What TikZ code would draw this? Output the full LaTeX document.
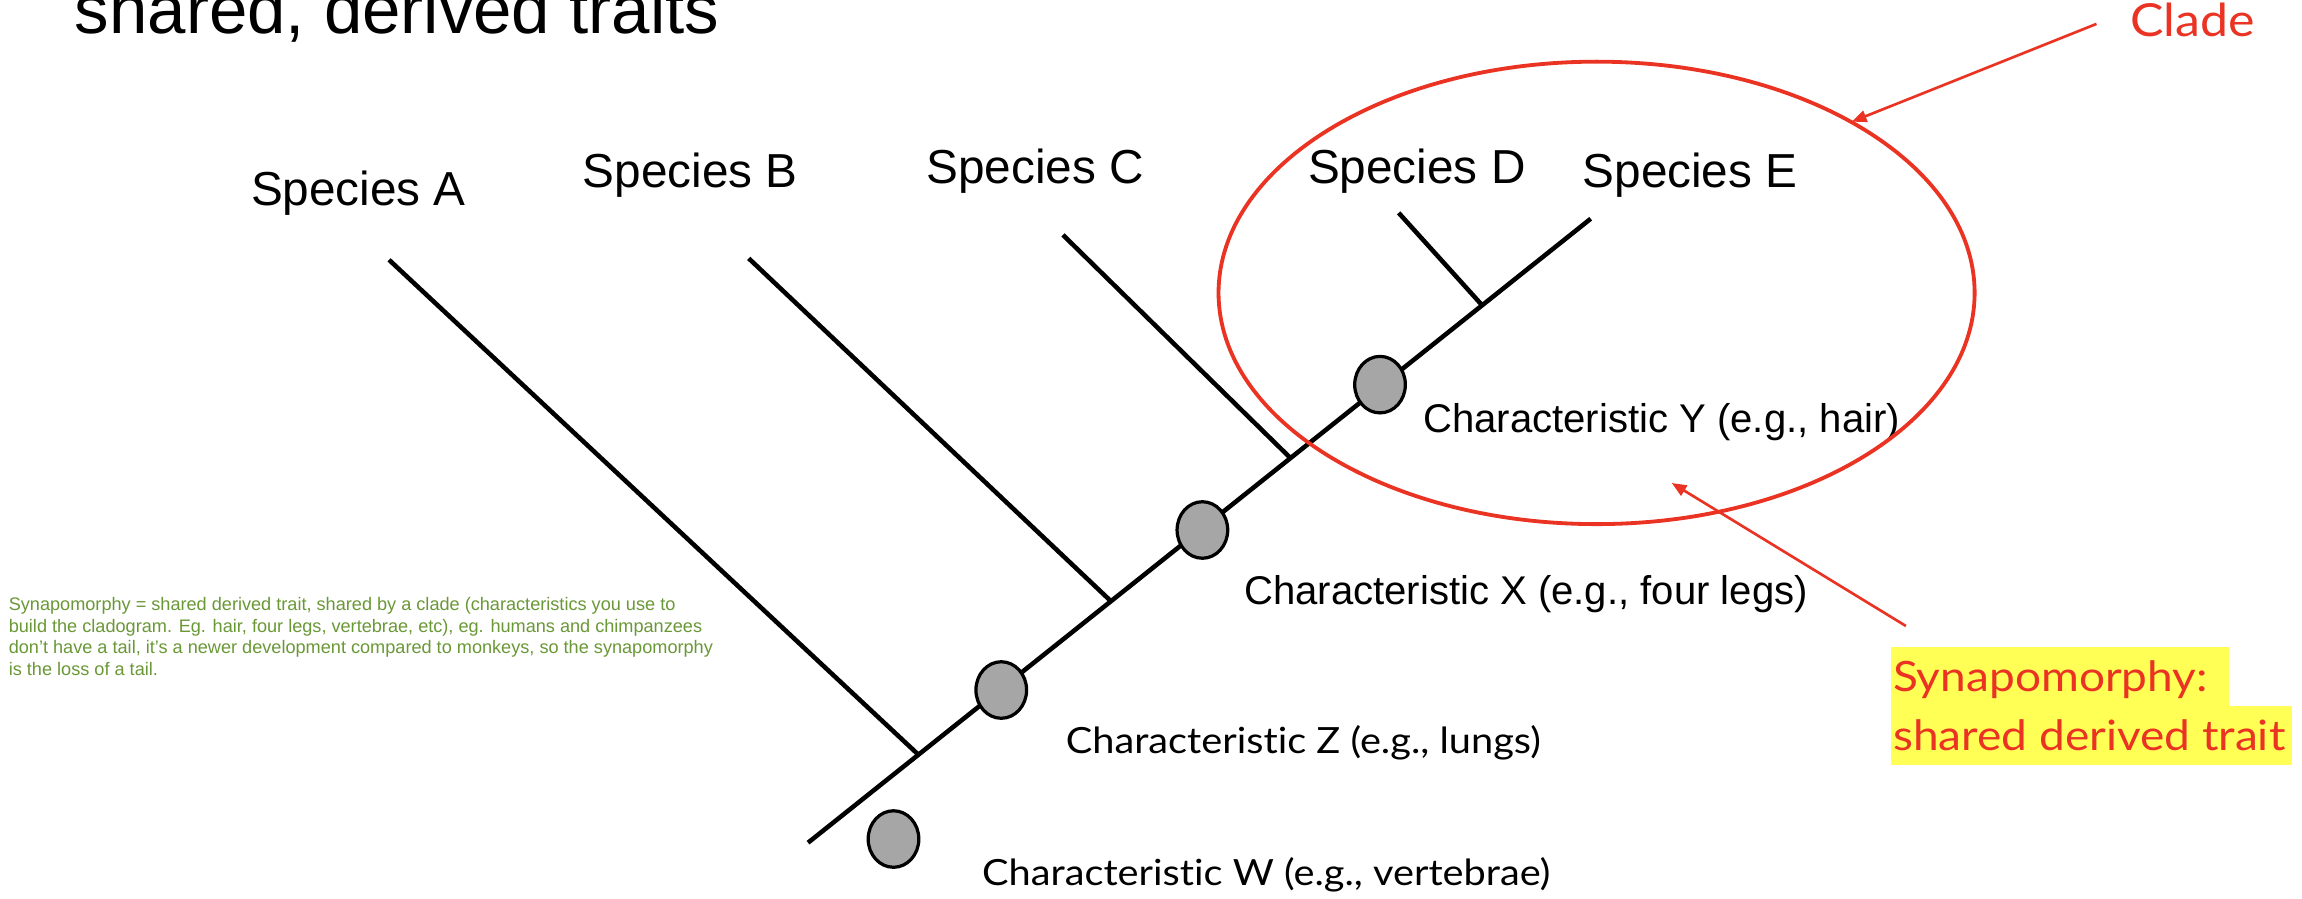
\documentclass[tikz,border=0pt]{standalone}
\usepackage{fontspec}
\setmainfont{Liberation Sans}
\newfontfamily\aptos[Ligatures=NoCommon,FakeStretch=1.1]{Lato}
\usetikzlibrary{arrows.meta,shapes.geometric}
\definecolor{cladered}{RGB}{234,51,35}
\definecolor{hlyellow}{RGB}{255,255,85}
\definecolor{notegreen}{RGB}{106,152,54}
\definecolor{dotgray}{RGB}{166,166,166}
\tikzset{
  lbl/.style={inner sep=0pt, outer sep=0pt, anchor=base west},
  species/.style={lbl, font=\fontsize{32.5}{39}\selectfont},
  charA/.style={lbl, font=\fontsize{27.3}{33}\selectfont},
  charB/.style={lbl, font=\aptos\fontsize{24.6}{29}\selectfont},
  branch/.style={line width=3.1pt},
  trait/.style={ellipse, draw=black, line width=2.2pt, fill=dotgray, minimum width=34.5pt, minimum height=38.5pt, inner sep=0pt},
  redarrow/.style={draw=cladered, line width=1.8pt, -{Triangle[length=10pt,width=8pt]}},
}
\begin{document}
\begin{tikzpicture}[x=1pt,y=-1pt]
\useasboundingbox (0,0) rectangle (1568,612);
\clip (0,0) rectangle (1568,612);
\fill[white] (0,0) rectangle (1568,612);

% title
\node[lbl, font=\fontsize{47}{56}\selectfont] (title) at (51,22.7) {shared, derived traits};

% species labels
\node[species] (sA) at (171,140) {Species A};
\node[species] (sB) at (397,128) {Species B};
\node[species] (sC) at (631,125) {Species C};
\node[species] (sD) at (891,125) {Species D};
\node[species] (sE) at (1078,128) {Species E};

% tree
\coordinate (root) at (550.4,574);
\coordinate (jA) at (625.5,514);
\coordinate (jB) at (756.7,409.5);
\coordinate (jC) at (879,312);
\coordinate (jD) at (1009.6,208);
\coordinate (tE) at (1083.5,149);
\coordinate (tA) at (265,177);
\coordinate (tB) at (510,176);
\coordinate (tC) at (724,160);
\coordinate (tD) at (952.7,145);
\draw[branch] (root) -- (tE);
\draw[branch] (tA) -- (jA);
\draw[branch] (tB) -- (jB);
\draw[branch] (tC) -- (jC);
\draw[branch] (tD) -- (jD);

% trait markers
\node[trait] (cW) at (608.6,571.5) {};
\node[trait] (cZ) at (682,470) {};
\node[trait] (cX) at (819,361) {};
\node[trait] (cY) at (940,262) {};

% characteristic labels
\node[charA] (lY) at (969.5,294.5) {Characteristic Y (e.g., hair)};
\node[charA] (lX) at (847.5,411.5) {Characteristic X (e.g., four legs)};
\node[charB] (lZ) at (726,513) {Characteristic Z (e.g., lungs)};
\node[charB] (lW) at (669,603) {Characteristic W (e.g., vertebrae)};

% clade ellipse
\node[ellipse, draw=cladered, line width=2.6pt, minimum width=515pt, minimum height=315pt, inner sep=0pt, outer sep=0pt] (clade) at (1087.5,199.5) {};
\node[lbl, text=cladered, font=\aptos\fontsize{31}{37}\selectfont] (cladelbl) at (1451,25) {Clade};
\coordinate (cladeFrom) at (1428,16.3);
\coordinate (cladeTo) at (1261.4,82.9);
\draw[redarrow] (cladeFrom) -- (cladeTo);

% synapomorphy label
\fill[hlyellow] (1288,441) rectangle (1518,481);
\fill[hlyellow] (1288,481) rectangle (1561,521);
\node[lbl, text=cladered, font=\aptos\fontsize{28.5}{34}\selectfont] (syn1) at (1289.5,471) {Synapomorphy:};
\node[lbl, text=cladered, font=\aptos\fontsize{28.5}{34}\selectfont] (syn2) at (1289.5,511) {shared derived trait};
\coordinate (synFrom) at (1298.2,426.4);
\coordinate (synTo) at (1138.7,329);
\draw[redarrow] (synFrom) -- (synTo);

% green note
\node[lbl, text=notegreen, align=left, font=\fontsize{12.35}{14.6}\selectfont] (note) at (6,459.8)
{Synapomorphy = shared derived trait, shared by a clade (characteristics you use to\\
build the cladogram. Eg. hair, four legs, vertebrae, etc), eg. humans and chimpanzees\\
don’t have a tail, it’s a newer development compared to monkeys, so the synapomorphy\\
is the loss of a tail.};
\end{tikzpicture}
\end{document}
